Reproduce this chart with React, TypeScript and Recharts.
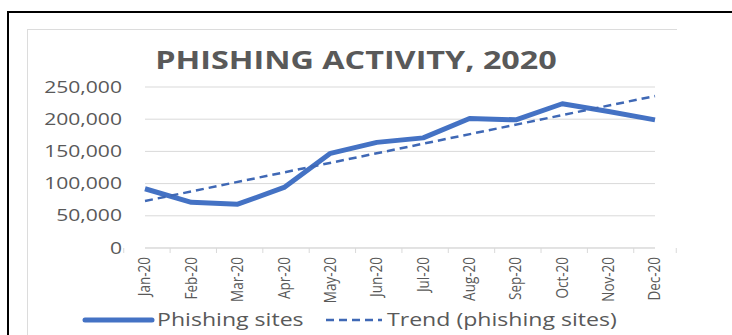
import { CartesianGrid, Legend, Line, LineChart, XAxis, YAxis } from "recharts";

const months = ["Jan-20", "Feb-20", "Mar-20", "Apr-20", "May-20", "Jun-20", "Jul-20", "Aug-20", "Sep-20", "Oct-20", "Nov-20", "Dec-20"];
const phishingSites = [92000, 71000, 68000, 94000, 147000, 164000, 171000, 201000, 199000, 224000, 212000, 199000];
// Excel linear trendline: only its two ends are read, the line joins them
const trendLine = [73000, null, null, null, null, null, null, null, null, null, null, 236000];
const yTicks = [0, 50000, 100000, 150000, 200000, 250000];

const data = months.map((month, i) => ({ month, sites: phishingSites[i], trend: trendLine[i] }));

const W = 732;
const H = 335;
const MARGIN = { top: 87, right: 77, bottom: 27, left: 0 };
const Y_AXIS_W = 145;
const BAND = (W - MARGIN.right - Y_AXIS_W) / months.length;
const BLUE = "#4472C4";
const TEXT = "#595959";
const STRETCH = 1.32;
const FONT = "'Open Sans', sans-serif";

const YTick = (props: any) => {
  const { x, y, payload } = props;
  return (
    <text
      transform={`translate(${x},${y}) scale(${STRETCH},1)`}
      textAnchor="end"
      dy="0.35em"
      fill={TEXT}
      fontSize={16}
      fontFamily={FONT}
    >
      {Number(payload.value).toLocaleString("en-US")}
    </text>
  );
};

const XTick = (props: any) => {
  const { x, y, payload, index } = props;
  const last = index === months.length - 1;
  return (
    <g>
      <line x1={x - BAND / 2} x2={x - BAND / 2} y1={y} y2={y + 5} stroke="#d9d9d9" />
      {last && <line x1={x + BAND / 2} x2={x + BAND / 2} y1={y} y2={y + 5} stroke="#d9d9d9" />}
      <text
        transform={`translate(${x},${y + 9}) scale(1.15,1) rotate(-90)`}
        textAnchor="end"
        dy="0.35em"
        fill={TEXT}
        fontSize={13.5}
        fontFamily={FONT}
      >
        {payload.value}
      </text>
    </g>
  );
};

const legendX = [85, 326];
const legendIconW = [67, 56];

const LegendContent = (props: any) => {
  const items = props.payload || [];
  return (
    <svg width={W} height={28}>
      {items.map((item: any, i: number) => {
        const x0 = legendX[i];
        const x1 = x0 + legendIconW[i];
        const dashed = item.dataKey === "trend";
        return (
          <g key={item.value}>
            <line
              x1={x0}
              x2={x1}
              y1={14}
              y2={14}
              stroke={item.color}
              strokeWidth={dashed ? 2.5 : 5}
              strokeDasharray={dashed ? "8 5" : undefined}
              strokeLinecap={dashed ? "butt" : "round"}
            />
            <text
              transform={`translate(${x1 + 5},14) scale(${STRETCH},1)`}
              dy="0.35em"
              fill={TEXT}
              fontSize={17.5}
              fontFamily={FONT}
            >
              {item.value}
            </text>
          </g>
        );
      })}
    </svg>
  );
};

export default function App() {
  return (
    <div style={{ position: "absolute", left: 0, top: 0, width: W, height: H, background: "#fff", overflow: "hidden" }}>
      <div
        style={{
          position: "absolute",
          left: 7,
          top: 11,
          width: 760,
          height: 360,
          border: "2px solid #000",
        }}
      />
      <div
        style={{
          position: "absolute",
          left: 27,
          top: 29,
          width: 649,
          height: 340,
          borderTop: "1px solid #dcdcdc",
          borderLeft: "1px solid #dcdcdc",
        }}
      />
      <div
        style={{
          position: "absolute",
          left: 0,
          top: 43,
          width: 712,
          height: 34,
          lineHeight: "34px",
          textAlign: "center",
          fontFamily: FONT,
          fontWeight: 700,
          fontSize: 24.5,
          color: TEXT,
          transform: `scaleX(${STRETCH})`,
        }}
      >
        PHISHING ACTIVITY, 2020
      </div>
      <div style={{ position: "absolute", left: 0, top: 0 }}>
        <LineChart width={W} height={H} data={data} margin={MARGIN}>
          <CartesianGrid vertical={false} stroke="#d9d9d9" />
          <XAxis
            dataKey="month"
            interval={0}
            height={60}
            tickLine={false}
            tickSize={0}
            tickMargin={0}
            axisLine={{ stroke: "#d9d9d9" }}
            tick={<XTick />}
          />
          <YAxis
            width={Y_AXIS_W}
            domain={[0, 250000]}
            ticks={yTicks}
            tickLine={false}
            axisLine={false}
            tickSize={0}
            tickMargin={23}
            tick={<YTick />}
          />
          <Legend
            layout="horizontal"
            verticalAlign="middle"
            align="center"
            wrapperStyle={{ top: 306, left: 0, width: W }}
            content={<LegendContent />}
          />
          <Line
            name="Phishing sites"
            dataKey="sites"
            stroke={BLUE}
            strokeWidth={5}
            strokeLinejoin="round"
            dot={false}
            isAnimationActive={false}
          />
          <Line
            name="Trend (phishing sites)"
            dataKey="trend"
            stroke="#3f68b5"
            strokeWidth={2.5}
            strokeDasharray="8 5"
            connectNulls
            dot={false}
            isAnimationActive={false}
          />
        </LineChart>
      </div>
    </div>
  );
}
